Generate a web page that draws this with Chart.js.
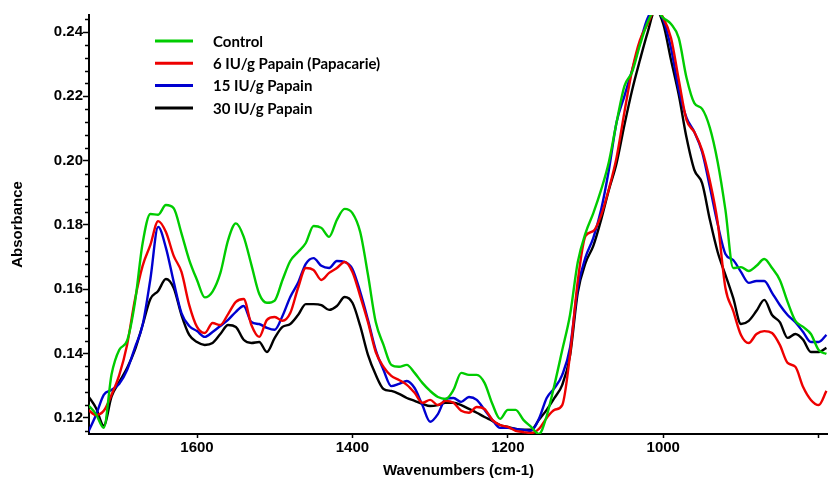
<!DOCTYPE html>
<html><head><meta charset="utf-8">
<script src="https://cdn.jsdelivr.net/npm/chart.js@4.4.1/dist/chart.umd.min.js"></script>
<style>html,body{margin:0;padding:0;background:#fff;}#wrap{width:828px;height:480px;}</style>
</head><body><div id="wrap"><canvas id="c" width="828" height="480"></canvas></div>
<script>
const wavenumbers = [1740,1730,1720,1710,1700,1690,1680,1670,1660,1650,
1640,1630,1620,1610,1600,1590,1580,1570,1560,1550,
1540,1530,1520,1510,1500,1490,1480,1470,1460,1450,
1440,1430,1420,1410,1400,1390,1380,1370,1360,1350,
1340,1330,1320,1310,1300,1290,1280,1270,1260,1250,
1240,1230,1220,1210,1200,1190,1180,1170,1160,1150,
1140,1130,1120,1110,1100,1090,1080,1070,1060,1050,
1040,1030,1020,1010,1000,990,980,970,960,950,
940,930,920,910,900,890,880,870,860,850,
840,830,820,810,800,790];

const control = [0.1240,0.1212,0.1169,0.1335,0.1412,0.1440,0.1557,0.1743,0.1834,0.1832,
0.1862,0.1852,0.1774,0.1691,0.1629,0.1575,0.1593,0.1650,0.1753,0.1805,
0.1764,0.1676,0.1586,0.1558,0.1565,0.1629,0.1688,0.1716,0.1744,0.1797,
0.1791,0.1763,0.1816,0.1850,0.1837,0.1778,0.1645,0.1498,0.1427,0.1365,
0.1359,0.1365,0.1340,0.1309,0.1284,0.1265,0.1259,0.1287,0.1340,0.1334,
0.1334,0.1309,0.1244,0.1197,0.1225,0.1225,0.1194,0.1172,0.1150,0.1206,
0.1303,0.1411,0.1520,0.1685,0.1775,0.1837,0.1909,0.1996,0.2120,0.2232,
0.2276,0.2360,0.2431,0.2470,0.2444,0.2425,0.2381,0.2257,0.2179,0.2161,
0.2102,0.1996,0.1847,0.1666,0.1669,0.1657,0.1673,0.1694,0.1666,0.1629,
0.1561,0.1502,0.1483,0.1461,0.1411,0.1399];

const papain6 = [0.1225,0.1209,0.1222,0.1272,0.1334,0.1427,0.1567,0.1673,0.1738,0.1812,
0.1778,0.1704,0.1654,0.1551,0.1483,0.1464,0.1495,0.1489,0.1523,0.1561,
0.1570,0.1489,0.1452,0.1505,0.1514,0.1502,0.1526,0.1604,0.1666,0.1660,
0.1629,0.1651,0.1666,0.1685,0.1654,0.1579,0.1498,0.1405,0.1359,0.1331,
0.1318,0.1303,0.1278,0.1247,0.1256,0.1240,0.1253,0.1247,0.1222,0.1216,
0.1234,0.1228,0.1194,0.1178,0.1172,0.1160,0.1156,0.1153,0.1166,0.1200,
0.1225,0.1240,0.1396,0.1626,0.1766,0.1781,0.1830,0.1912,0.2011,0.2151,
0.2282,0.2375,0.2425,0.2470,0.2444,0.2381,0.2251,0.2126,0.2089,0.2033,
0.1937,0.1809,0.1604,0.1533,0.1458,0.1433,0.1461,0.1470,0.1464,0.1427,
0.1371,0.1359,0.1296,0.1256,0.1240,0.1284];

const papain15 = [0.1156,0.1209,0.1272,0.1287,0.1306,0.1349,0.1418,0.1489,0.1632,0.1794,
0.1729,0.1623,0.1526,0.1486,0.1470,0.1452,0.1467,0.1486,0.1505,0.1530,
0.1548,0.1498,0.1492,0.1480,0.1474,0.1517,0.1576,0.1620,0.1679,0.1697,
0.1673,0.1666,0.1688,0.1685,0.1663,0.1592,0.1505,0.1411,0.1349,0.1299,
0.1306,0.1315,0.1293,0.1240,0.1188,0.1212,0.1259,0.1262,0.1250,0.1265,
0.1256,0.1225,0.1194,0.1169,0.1169,0.1166,0.1163,0.1160,0.1197,0.1262,
0.1293,0.1334,0.1418,0.1605,0.1700,0.1760,0.1847,0.1971,0.2120,0.2201,
0.2282,0.2366,0.2444,0.2470,0.2437,0.2350,0.2220,0.2133,0.2089,0.2027,
0.1918,0.1803,0.1710,0.1691,0.1654,0.1620,0.1626,0.1626,0.1589,0.1551,
0.1520,0.1498,0.1467,0.1436,0.1436,0.1458];

const papain30 = [0.1268,0.1231,0.1176,0.1266,0.1312,0.1355,0.1411,0.1489,0.1570,0.1595,
0.1632,0.1604,0.1520,0.1458,0.1436,0.1427,0.1433,0.1461,0.1489,0.1483,
0.1443,0.1433,0.1436,0.1405,0.1449,0.1483,0.1492,0.1520,0.1554,0.1554,
0.1551,0.1536,0.1548,0.1576,0.1558,0.1486,0.1396,0.1334,0.1290,0.1284,
0.1275,0.1262,0.1253,0.1244,0.1237,0.1240,0.1247,0.1247,0.1240,0.1228,
0.1216,0.1203,0.1191,0.1178,0.1172,0.1166,0.1163,0.1163,0.1194,0.1225,
0.1262,0.1303,0.1393,0.1590,0.1682,0.1735,0.1816,0.1909,0.1993,0.2111,
0.2220,0.2313,0.2400,0.2470,0.2425,0.2313,0.2204,0.2071,0.1971,0.1930,
0.1816,0.1716,0.1645,0.1573,0.1492,0.1502,0.1533,0.1567,0.1520,0.1498,
0.1449,0.1461,0.1443,0.1405,0.1405,0.1418];

const seriesLabels = ['Control', '6 IU/g Papain (Papacarie)', '15 IU/g Papain', '30 IU/g Papain'];
const seriesColors = ['#00cc00', '#ee0000', '#0000d0', '#000000'];
const xTicks = [1600, 1400, 1200, 1000, 800];
const yTicks = [0.12, 0.14, 0.16, 0.18, 0.20, 0.22, 0.24];

const seriesValues = [control, papain6, papain15, papain30];
const datasets = seriesValues.map((vals, i) => ({
  label: seriesLabels[i],
  data: wavenumbers.map((w, j) => ({x: w, y: vals[j]})),
  borderColor: seriesColors[i],
  backgroundColor: seriesColors[i],
  borderWidth: 2.4,
  pointRadius: 0,
  fill: false,
  cubicInterpolationMode: 'monotone'
}));

const boldFont = (size) => ({family: "'Liberation Sans', Arial, sans-serif", size: size, weight: 'bold'});

const decor = {
  id: 'decor',
  afterDraw(chart) {
    const ctx = chart.ctx, ys = chart.scales.y, a = chart.chartArea;
    ctx.save();
    ctx.strokeStyle = '#000';
    ctx.lineWidth = 1.5;
    for (let k = 29; k * 0.004 <= ys.max + 1e-9; k++) {
      if (k % 5 === 0) continue;
      const v = k * 0.004;
      if (v < ys.min) continue;
      const py = Math.round(ys.getPixelForValue(v)) + 0.5;
      ctx.beginPath();
      ctx.moveTo(a.left - 4, py);
      ctx.lineTo(a.left, py);
      ctx.stroke();
    }
    ctx.font = "bold 15px Lato, 'Open Sans', sans-serif";
    ctx.textBaseline = 'middle';
    ctx.textAlign = 'left';
    chart.data.datasets.forEach((ds, i) => {
      const y = 41 + i * 22.3;
      ctx.strokeStyle = ds.borderColor;
      ctx.lineWidth = 3;
      ctx.beginPath();
      ctx.moveTo(155, y);
      ctx.lineTo(193, y);
      ctx.stroke();
      ctx.fillStyle = '#000';
      ctx.fillText(ds.label, 213, y + 1);
    });
    ctx.restore();
  }
};

new Chart(document.getElementById('c'), {
  type: 'line',
  data: {datasets: datasets},
  options: {
    responsive: false,
    animation: false,
    devicePixelRatio: 1,
    layout: {padding: {top: 15, right: 0, bottom: 0, left: 0}},
    plugins: {legend: {display: false}, tooltip: {enabled: false}},
    scales: {
      x: {
        type: 'linear', reverse: true, min: 788, max: 1739,
        afterBuildTicks: s => { s.ticks = xTicks.map(v => ({value: v})); },
        afterFit: s => { s.height = 46; },
        border: {display: true, color: '#000', width: 2},
        grid: {drawOnChartArea: false, drawTicks: true, tickLength: 4, color: '#000', tickWidth: 1.5},
        ticks: {autoSkip: false, maxRotation: 0, padding: 1, color: '#000', font: boldFont(15),
          callback: v => (v === 800 ? '' : String(v))},
        title: {display: true, text: 'Wavenumbers (cm-1)', color: '#000', font: boldFont(15), padding: {top: 0, bottom: 0}}
      },
      y: {
        type: 'linear', min: 0.115, max: 0.2453,
        afterBuildTicks: s => { s.ticks = yTicks.map(v => ({value: v})); },
        afterFit: s => { s.width = 89; },
        border: {display: true, color: '#000', width: 2},
        grid: {drawOnChartArea: false, drawTicks: true, tickLength: 6, color: '#000', tickWidth: 1.5},
        ticks: {padding: 0, color: '#000', font: boldFont(15), callback: v => Number(v).toFixed(2)},
        title: {display: true, text: 'Absorbance', color: '#000', font: boldFont(15), padding: {top: 9, bottom: 0}}
      }
    }
  },
  plugins: [decor]
});
</script>
</body></html>
